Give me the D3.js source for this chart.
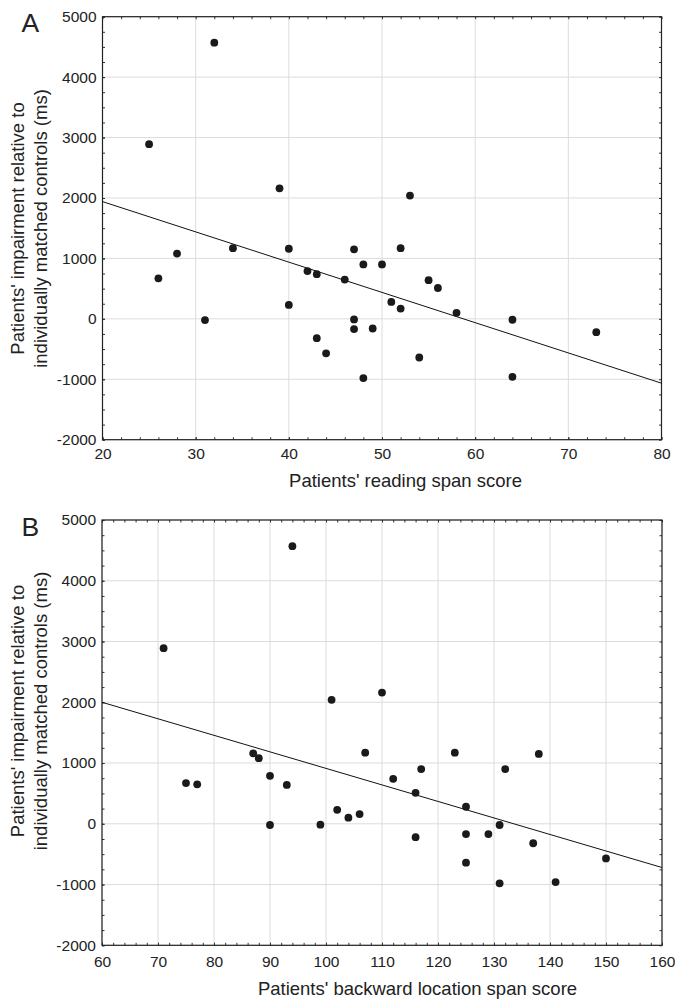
<!DOCTYPE html>
<html>
<head>
<meta charset="utf-8">
<script src="https://cdnjs.cloudflare.com/ajax/libs/d3/7.8.5/d3.min.js"></script>
<style>
  body { margin: 0; background: #fff; }
  svg { display: block; font-family: "Liberation Sans", Arial, sans-serif; }
  .tick text { fill: #222; }
</style>
</head>
<body>
<div id="chart"></div>
<script>
// Panel A: reading span vs impairment
var readingSpan = [25, 32, 39, 53, 26, 28, 31, 34, 40, 40, 42, 43, 43, 44, 46, 47,
                   48, 50, 52, 47, 47, 49, 51, 52, 48, 54, 55, 56, 58, 64, 64, 73];
var impairmentA = [2890, 4570, 2160, 2040, 670, 1080, -20, 1170, 1160, 230, 790, 740, -320, -570, 650, 1150,
                   900, 900, 1170, -10, -170, -160, 280, 170, -980, -640, 640, 510, 100, -15, -960, -220];
var fitAx = [20, 80];
var fitAy = [1940, -1065];
var xTicksA = [20, 30, 40, 50, 60, 70, 80];

// Panel B: backward location span vs impairment
var locationSpan = [71, 94, 101, 110, 75, 77, 87, 88, 90, 93, 90, 99, 102, 104, 106, 107,
                    112, 116, 117, 116, 123, 125, 125, 125, 129, 131, 131, 132, 137, 138, 141, 150];
var impairmentB = [2890, 4570, 2040, 2160, 670, 650, 1160, 1080, 790, 640, -20, -15, 230, 100, 160, 1170,
                   740, 510, 900, -220, 1170, 280, -170, -640, -170, -20, -980, 900, -320, 1150, -960, -570];
var fitBx = [60, 160];
var fitBy = [2000, -720];
var xTicksB = [60, 70, 80, 90, 100, 110, 120, 130, 140, 150, 160];

var yTicks = [-2000, -1000, 0, 1000, 2000, 3000, 4000, 5000];
var yTitle = ["Patients' impairment relative to", "individually matched controls (ms)"];

var width = 675, height = 1000;
var svg = d3.select("#chart").append("svg")
  .attr("width", width)
  .attr("height", height);

// plain hyphen for negatives, like the original
var fmt = d => String(d);

function drawPanel(p) {
  var x = d3.scaleLinear().domain(p.xDomain).range([p.left, p.right]);
  var y = d3.scaleLinear().domain([-2000, 5000]).range([p.bottom, p.top]);
  var g = svg.append("g");

  var minorX = d3.range(p.xDomain[0], p.xDomain[1] + 0.01, 2);
  var minorY = d3.range(-2000, 5001, 250);

  // grid
  g.append("g").selectAll("line").data(p.xTicks).enter().append("line")
    .attr("x1", d => x(d)).attr("x2", d => x(d))
    .attr("y1", p.top).attr("y2", p.bottom)
    .attr("stroke", "#dcdcdc").attr("stroke-width", 1);
  g.append("g").selectAll("line").data(yTicks).enter().append("line")
    .attr("x1", p.left).attr("x2", p.right)
    .attr("y1", d => y(d)).attr("y2", d => y(d))
    .attr("stroke", "#dcdcdc").attr("stroke-width", 1);

  // minor ticks (inward) on all four sides
  function minor(axis, tr) {
    var a = g.append("g").attr("transform", tr).call(axis);
    a.select(".domain").remove();
    a.selectAll("line").attr("stroke", "#333");
    return a;
  }
  minor(d3.axisBottom(x).tickValues(minorX).tickSize(-2.5).tickFormat(""), `translate(0,${p.bottom})`);
  minor(d3.axisTop(x).tickValues(minorX).tickSize(-2.5).tickFormat(""), `translate(0,${p.top})`);
  minor(d3.axisLeft(y).tickValues(minorY).tickSize(-2.5).tickFormat(""), `translate(${p.left},0)`);
  minor(d3.axisRight(y).tickValues(minorY).tickSize(-2.5).tickFormat(""), `translate(${p.right},0)`);

  // labelled axes
  var xa = g.append("g")
    .attr("transform", `translate(0,${p.bottom})`)
    .call(d3.axisBottom(x).tickValues(p.xTicks).tickSize(-2.5).tickFormat(fmt));
  xa.select(".domain").remove();
  xa.selectAll("line").attr("stroke", "#333");
  xa.selectAll("text")
    .attr("dy", null).attr("y", p.xLabelY)
    .style("font-size", "15.5px").style("font-family", "Liberation Sans, Arial, sans-serif");

  var ya = g.append("g")
    .attr("transform", `translate(${p.left},0)`)
    .call(d3.axisLeft(y).tickValues(yTicks).tickSize(-2.5).tickPadding(6).tickFormat(fmt));
  ya.select(".domain").remove();
  ya.selectAll("line").attr("stroke", "#333");
  ya.selectAll("text")
    .attr("x", -6)
    .style("font-size", "15.5px").style("font-family", "Liberation Sans, Arial, sans-serif");

  // frame
  g.append("rect")
    .attr("x", p.left).attr("y", p.top)
    .attr("width", p.right - p.left).attr("height", p.bottom - p.top)
    .attr("fill", "none").attr("stroke", "#222").attr("stroke-width", 1.2);

  // regression line
  var line = d3.line().x(d => x(d[0])).y(d => y(d[1]));
  g.append("path")
    .attr("d", line(d3.zip(p.fitX, p.fitY)))
    .attr("fill", "none").attr("stroke", "#111").attr("stroke-width", 1);

  // points
  g.append("g").selectAll("circle")
    .data(d3.zip(p.xs, p.ys)).enter().append("circle")
    .attr("cx", d => x(d[0])).attr("cy", d => y(d[1]))
    .attr("r", 3.9).attr("fill", "#1a1a1a");

  // titles
  g.append("text")
    .attr("x", p.xTitleX).attr("y", p.xTitleY)
    .attr("text-anchor", "middle")
    .style("font-size", "18.5px").attr("fill", "#222")
    .text(p.xTitle);

  yTitle.forEach(function (t, i) {
    g.append("text")
      .attr("transform", `translate(${23.5 + i * 23},${p.yTitleCenter}) rotate(-90)`)
      .attr("text-anchor", "middle")
      .style("font-size", "18.5px").attr("fill", "#222")
      .text(t);
  });

  g.append("text")
    .attr("x", 21.5).attr("y", p.letterY)
    .style("font-size", "26.5px").attr("fill", "#222")
    .text(p.letter);
}

drawPanel({
  letter: "A", letterY: 32,
  xs: readingSpan, ys: impairmentA, fitX: fitAx, fitY: fitAy,
  xDomain: [20, 80], xTicks: xTicksA,
  left: 102.5, right: 661.5, top: 16.7, bottom: 439.7,
  xLabelY: 19.5,
  xTitle: "Patients' reading span score", xTitleX: 405.5, xTitleY: 487.3,
  yTitleCenter: 228.5
});

drawPanel({
  letter: "B", letterY: 536,
  xs: locationSpan, ys: impairmentB, fitX: fitBx, fitY: fitBy,
  xDomain: [60, 160], xTicks: xTicksB,
  left: 102, right: 662, top: 520, bottom: 945.3,
  xLabelY: 21.4,
  xTitle: "Patients' backward location span score", xTitleX: 417.5, xTitleY: 995,
  yTitleCenter: 711
});
</script>
</body>
</html>
